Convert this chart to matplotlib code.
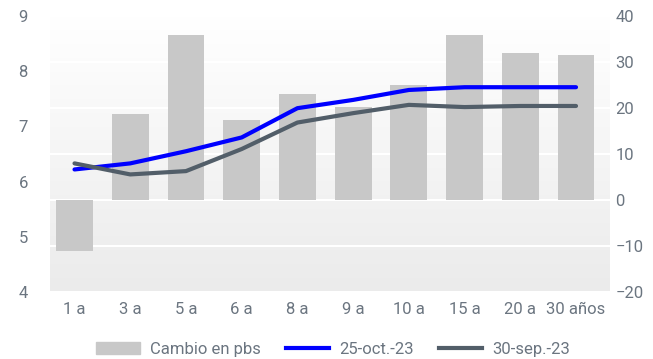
import numpy as np
import matplotlib.pyplot as plt
from matplotlib.colors import LinearSegmentedColormap
from matplotlib.patches import Patch
from matplotlib.lines import Line2D

plazos = ["1 a", "3 a", "5 a", "6 a", "8 a", "9 a", "10 a", "15 a", "20 a", "30 años"]
cambio_pbs = [-11.0, 18.6, 35.8, 17.5, 23.0, 20.3, 25.1, 35.8, 31.9, 31.5]
tasa_25oct = [6.22, 6.33, 6.55, 6.80, 7.33, 7.48, 7.66, 7.71, 7.71, 7.71]
tasa_30sep = [6.33, 6.13, 6.19, 6.59, 7.07, 7.24, 7.39, 7.35, 7.37, 7.37]

txt = "#6b7580"
plt.rcParams["font.family"] = ["Roboto", "DejaVu Sans"]

fig = plt.figure(figsize=(6.53, 3.59), dpi=100)
ax = fig.add_axes([50 / 653, 67 / 359, 560 / 653, 276 / 359])
ax2 = ax.twinx()

x = np.arange(len(plazos))
xlim = (-0.44, 9.61)

# fondo degradado
grad = np.linspace(0, 1, 256).reshape(-1, 1)
cmap_bg = LinearSegmentedColormap.from_list("bg", ["#ffffff", "#ebebeb"])
ax.imshow(grad, extent=(xlim[0], xlim[1], -20, 40), aspect="auto", cmap=cmap_bg,
          origin="upper", zorder=0)

ax.bar(x, cambio_pbs, width=0.66, color="#c8c8c8", zorder=2)
ax.set_ylim(-20, 40)
ax.set_yticks(range(-20, 41, 10))
ax.set_xlim(*xlim)
ax.grid(axis="y", color="white", linewidth=1.5, zorder=1)
ax.set_axisbelow(True)
ax.yaxis.tick_right()

ax2.plot(x, tasa_25oct, color="#0000ff", linewidth=3, solid_capstyle="round")
ax2.plot(x, tasa_30sep, color="#525e69", linewidth=3, solid_capstyle="round")
ax2.set_ylim(4, 9)
ax2.set_yticks(range(4, 10))
ax2.yaxis.tick_left()

ax.set_xticks(x)
ax.set_xticklabels(plazos)

for a in (ax, ax2):
    for s in a.spines.values():
        s.set_visible(False)
    a.tick_params(length=0, labelsize=12, colors=txt)
ax.tick_params(axis="x", pad=7)
ax.tick_params(axis="y", pad=4)
ax2.tick_params(axis="y", pad=16)

handles = [
    Patch(color="#c8c8c8", label="Cambio en pbs"),
    Line2D([], [], color="#0000ff", linewidth=3, label="25-oct.-23"),
    Line2D([], [], color="#525e69", linewidth=3, label="30-sep.-23"),
]
fig.legend(handles=handles, loc="lower center", bbox_to_anchor=(0.51, -0.035), ncol=3,
           frameon=False, fontsize=12, labelcolor=txt, handlelength=2.6,
           handletextpad=0.6, columnspacing=1.5)

fig.savefig("out.png", dpi=100)
